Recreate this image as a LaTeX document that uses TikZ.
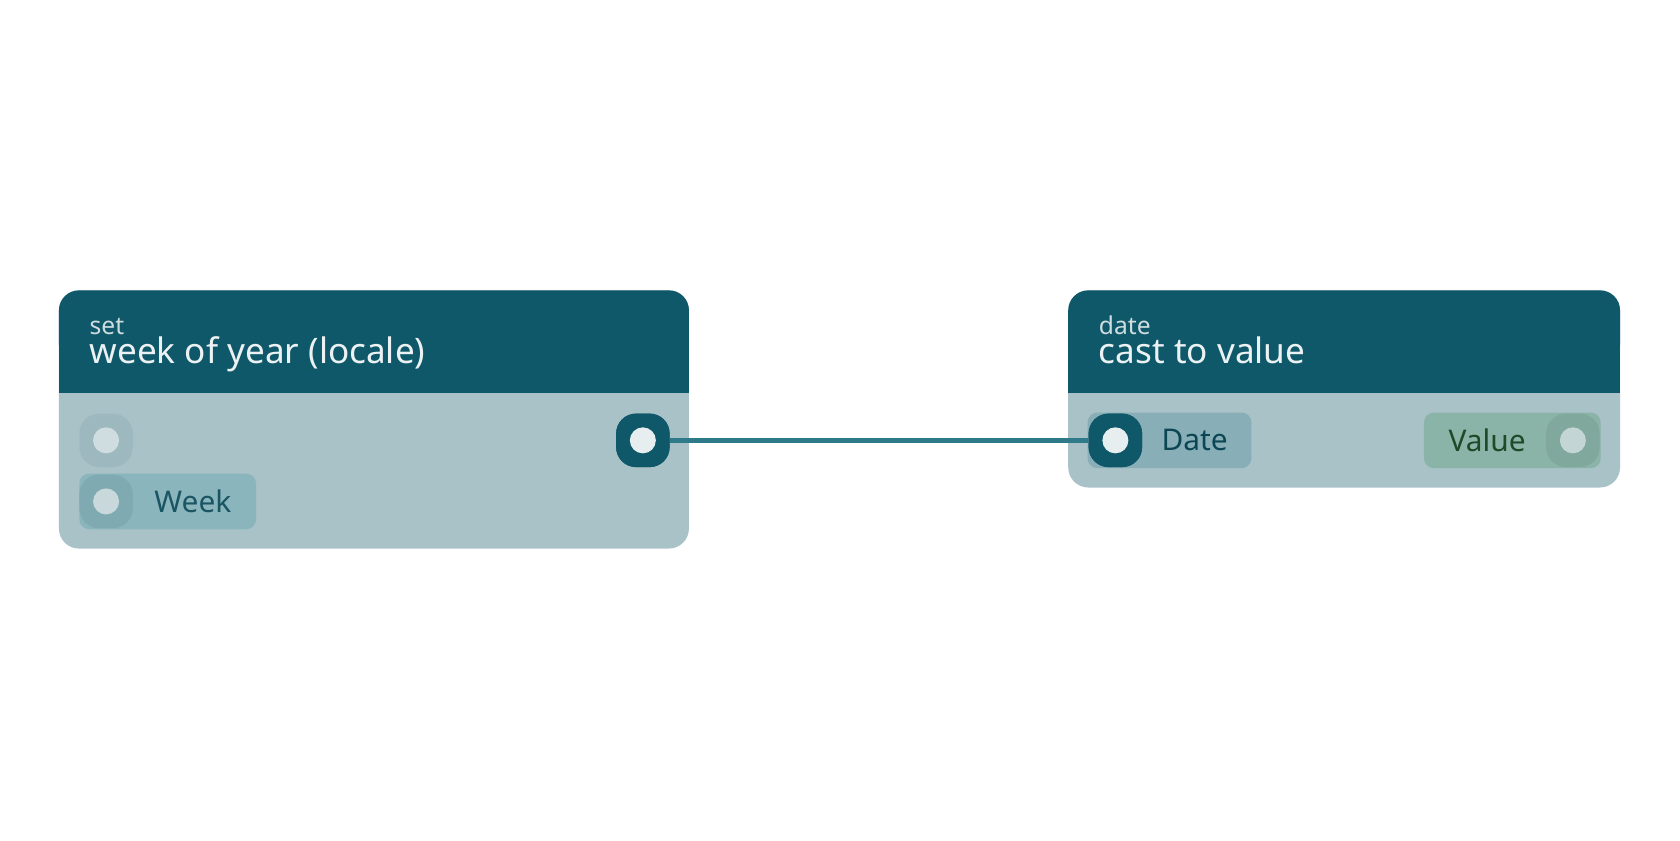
\documentclass[tikz,border=0pt]{standalone}
\usepackage{fontspec}
\setmainfont{Noto Sans}
\definecolor{headc}{HTML}{0F5869}
\definecolor{bodyc}{HTML}{A9C2C7}
\definecolor{portc}{HTML}{9DB8BE}
\definecolor{dotc}{HTML}{D0DDE0}
\definecolor{pillc}{HTML}{8AB5BD}
\definecolor{pillsq}{HTML}{80AAB2}
\definecolor{datec}{HTML}{88AEB7}
\definecolor{valc}{HTML}{8BB4A8}
\definecolor{valsq}{HTML}{80A89C}
\definecolor{edgec}{HTML}{2E7A88}
\definecolor{txtc}{HTML}{1A5563}
\definecolor{valtxt}{HTML}{1E4A2A}
\begin{document}
\begin{tikzpicture}[x={0.010714cm},y={-0.010714cm},
        port/.style={rounded corners=2mm, minimum size=5.35mm, inner sep=0pt},
        dot/.style={circle, fill=#1, minimum size=2.6mm, inner sep=0pt},
        pill/.style={rounded corners=1mm, inner sep=0pt},
        kind/.style={anchor=base west, inner sep=0pt, text=dotc, font=\fontsize{7}{8}\selectfont},
        title/.style={anchor=base west, inner sep=0pt, text=white!92!headc, font=\fontsize{10}{12}\selectfont},
        plabel/.style={font=\fontsize{8.5}{10}\selectfont}]
        \useasboundingbox (0,0) rectangle (1568,784);

        % Nodes
        \fill[bodyc, rounded corners=2mm] (55,271) rectangle (643,512);
        \fill[headc, rounded corners=2mm] (55,271) rectangle (643,340);
        \fill[headc] (55,320) rectangle (643,367);
        \node[kind] (k1) at (83,312) {set};
        \node[title] (t1) at (83,339) {week of year (locale)};

        \fill[bodyc, rounded corners=2mm] (997,271) rectangle (1512,455);
        \fill[headc, rounded corners=2mm] (997,271) rectangle (1512,340);
        \fill[headc] (997,320) rectangle (1512,367);
        \node[kind] (k2) at (1025,312) {date};
        \node[title] (t2) at (1025,339) {cast to value};

        % Ports
        \node[port, fill=portc] (in1) at (99,411) {};
        \node[dot=dotc] at (in1) {};
        \fill[pillc, pill] (74,442) rectangle (239,494);
        \node[port, fill=pillsq] (in2) at (99,468) {};
        \node[dot=dotc!90!pillsq] at (in2) {};
        \node[plabel, text=txtc] (week) at (180,468) {Week};

        \node[port, fill=headc] (out1) at (600,411) {};
        \fill[datec, pill] (1015,385) rectangle (1168,437);
        \node[port, fill=headc] (in3) at (1041,411) {};
        \node[plabel, text=headc!80!black] (date) at (1115,411) {Date};

        \fill[valc, pill] (1329,385) rectangle (1494,437);
        \node[port, fill=valsq] (out2) at (1468,411) {};
        \node[dot=dotc!85!valsq] at (out2) {};
        \node[plabel, text=valtxt] (value) at (1388,411) {Value};

        % Edges
        \draw[edgec, line width=1.6pt] (out1.east) -- (in3.west);
        \node[port, fill=headc] at (out1) {};
        \node[dot=white!90!headc] at (out1) {};
        \node[port, fill=headc] at (in3) {};
        \node[dot=white!90!headc] at (in3) {};
\end{tikzpicture}
\end{document}
